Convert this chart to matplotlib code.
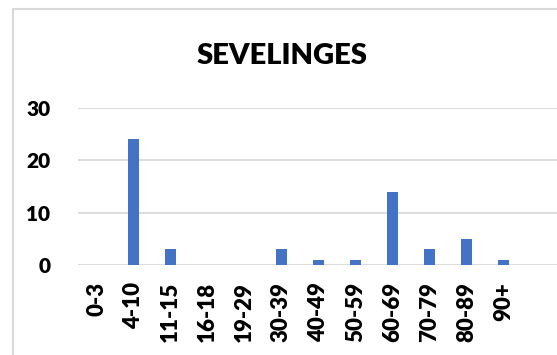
#!/usr/bin/env python3
import matplotlib
matplotlib.use("Agg")
import matplotlib.pyplot as plt
from matplotlib.patches import Rectangle

# 年齡層與人數
age_groups = ["0-3", "4-10", "11-15", "16-18", "19-29", "30-39",
              "40-49", "50-59", "60-69", "70-79", "80-89", "90+"]
counts = [0, 24, 3, 0, 0, 3, 1, 1, 14, 3, 5, 1]
y_ticks = [0, 10, 20, 30]

BAR_COLOR = "#4472C4"
GRID_COLOR = "#D9D9D9"

plt.rcParams['font.family'] = ['Lato', 'DejaVu Sans']

W, H = 557, 355
fig = plt.figure(figsize=(W / 100, H / 100), dpi=100)

# 外框（右側與下方被裁掉）
fig.patches.append(Rectangle((13 / W, -0.1), 1.2, 1 - 9 / H + 0.1,
                             transform=fig.transFigure, fill=False,
                             edgecolor=GRID_COLOR, linewidth=1.5))

ax = fig.add_axes([78 / W, 1 - 265 / H, 1 - 78 / W, (265 - 108) / H])
x = range(len(age_groups))
ax.bar(x, counts, width=0.31, color=BAR_COLOR, zorder=3)

slot = 37
ax.set_xlim(-0.5, -0.5 + (W - 78) / slot)
ax.set_ylim(0, 30)
ax.set_yticks(y_ticks)
ax.set_xticks(list(x))
ax.set_xticklabels(age_groups, rotation=90, fontsize=16, fontweight='heavy')
ax.set_yticklabels([str(t) for t in y_ticks], fontsize=15, fontweight='heavy')
ax.tick_params(length=0)
ax.tick_params(axis='y', pad=20)
ax.tick_params(axis='x', pad=12)
ax.grid(axis='y', color=GRID_COLOR, linewidth=1.3, zorder=0)
for s in ax.spines.values():
    s.set_visible(False)
ax.set_facecolor("none")

fig.text(282 / W, 1 - 56 / H, "SEVELINGES", ha='center', va='center',
         fontsize=21, fontweight='heavy')

fig.savefig("out.png", dpi=100)
